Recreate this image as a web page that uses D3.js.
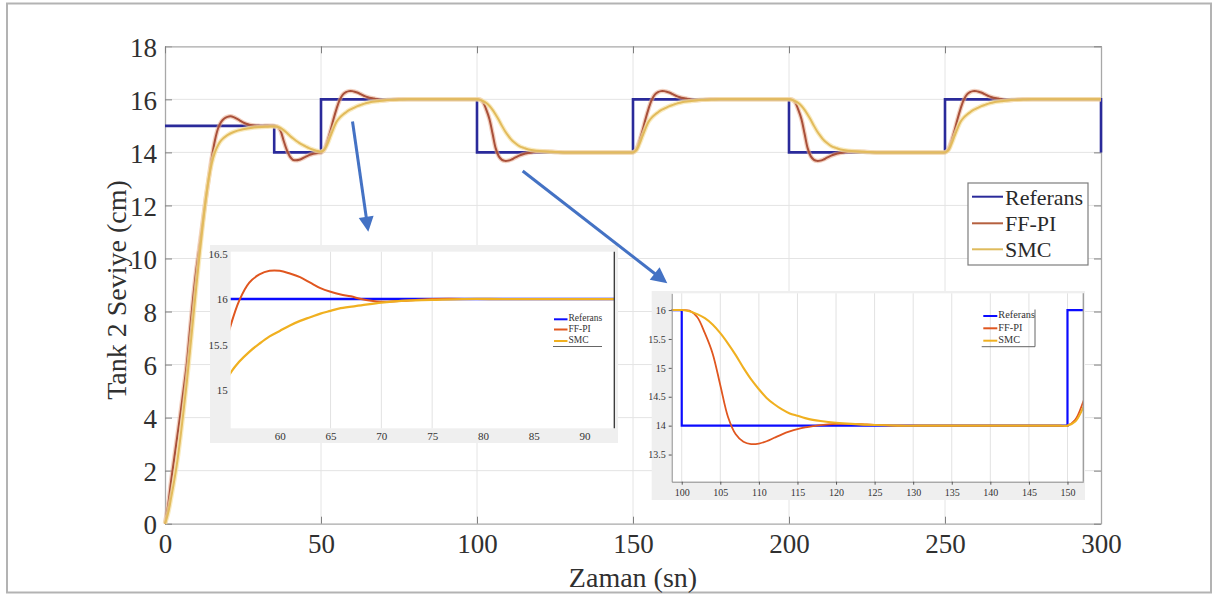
<!DOCTYPE html>
<html>
<head>
<meta charset="utf-8">
<script src="https://cdn.jsdelivr.net/npm/d3@7"></script>
<style>
  body { margin: 0; background: #fff; }
  text { font-family: "Liberation Serif", "Times New Roman", serif; }
</style>
</head>
<body>
<svg id="chart" width="1217" height="595"></svg>
<script>
// ---- data ----
const refTimes = [0, 35, 50, 100, 150, 200, 250, 300];
const refLevels = [15, 14, 16, 14, 16, 14, 16, 14];

const ffpiData = [
  [0,0],[1,0.7],[2,1.65],[3,2.5],[4,3.35],[5,4.2],[6,5.1],[7,6.05],[8,7.3],[9,8.5],[10,9.55],[11,10.4],[12,11.3],[13,12.2],[14,13.0],[15,13.8],[16,14.45],[17,14.9],[18,15.15],[19,15.28],[20,15.34],[21,15.36],[22,15.33],[23,15.27],[24,15.2],[25,15.13],[26,15.08],[27,15.04],[28,15.02],[30,15.0],[32,15.0],[34,15.0],[35,15.0],
  [36,14.97],[37,14.82],[38,14.45],[39,14.1],[40,13.85],[41,13.72],[42,13.7],[43,13.72],[44,13.77],[45,13.83],[46,13.89],[47,13.93],[48,13.96],[49,13.98],[50,13.99],
  [51,14.1],[52,14.4],[53,14.8],[54,15.25],[55,15.65],[56,15.98],[57,16.18],[58,16.27],[59,16.31],[60,16.31],[61,16.28],[62,16.24],[63,16.18],[64,16.12],[65,16.08],[66,16.05],[67,16.03],[68,16.0],[69,15.98],[70,15.97],[72,15.98],[75,16.0],[80,16.0],[85,16.0],[90,16.0],[95,16.0],[99,16.0],[100,16.0],
  [101,15.99],[102,15.88],[103,15.6],[104,15.25],[105,14.7],[106,14.15],[107,13.85],[108,13.72],[109,13.68],[110,13.69],[111,13.73],[112,13.79],[113,13.85],[114,13.9],[115,13.94],[116,13.97],[117,13.99],[118,14.01],[120,14.03],[122,14.03],[124,14.02],[126,14.01],[128,14.0],[132,14.0],[136,14.0],[140,14.0],[144,14.0],[147,14.0],[149,14.0],[150,14.0],
  [151,14.1],[152,14.4],[153,14.8],[154,15.25],[155,15.65],[156,15.98],[157,16.18],[158,16.27],[159,16.31],[160,16.31],[161,16.28],[162,16.24],[163,16.18],[164,16.12],[165,16.08],[166,16.05],[167,16.03],[168,16.0],[169,15.98],[170,15.97],[172,15.98],[175,16.0],[180,16.0],[185,16.0],[190,16.0],[195,16.0],[199,16.0],[200,16.0],
  [201,15.99],[202,15.88],[203,15.6],[204,15.25],[205,14.7],[206,14.15],[207,13.85],[208,13.72],[209,13.68],[210,13.69],[211,13.73],[212,13.79],[213,13.85],[214,13.9],[215,13.94],[216,13.97],[217,13.99],[218,14.01],[220,14.03],[222,14.03],[224,14.02],[226,14.01],[228,14.0],[232,14.0],[236,14.0],[240,14.0],[244,14.0],[247,14.0],[249,14.0],[250,14.0],
  [251,14.1],[252,14.4],[253,14.8],[254,15.25],[255,15.65],[256,15.98],[257,16.18],[258,16.27],[259,16.31],[260,16.31],[261,16.28],[262,16.24],[263,16.18],[264,16.12],[265,16.08],[266,16.05],[267,16.03],[268,16.0],[269,15.98],[270,15.97],[272,15.98],[275,16.0],[280,16.0],[285,16.0],[290,16.0],[295,16.0],[300,16.0]
];

const smcData = [
  [0,0],[1,0.4],[2,1.0],[3,1.65],[4,2.4],[5,3.3],[6,4.3],[7,5.35],[8,6.5],[9,7.7],[10,8.9],[11,10.05],[12,11.15],[13,12.15],[14,13.0],[15,13.6],[16,14.0],[17,14.27],[18,14.45],[20,14.65],[22,14.77],[25,14.87],[28,14.93],[31,14.96],[33,14.97],[35,14.98],
  [36,14.97],[37,14.92],[38,14.84],[39,14.74],[40,14.63],[41,14.53],[42,14.44],[43,14.36],[44,14.29],[45,14.23],[46,14.17],[47,14.12],[48,14.08],[49,14.05],[50,14.03],
  [51,14.1],[52,14.3],[53,14.6],[54,14.9],[55,15.16],[56,15.31],[57,15.42],[58,15.51],[59,15.59],[60,15.65],[61,15.71],[62,15.76],[63,15.8],[64,15.84],[65,15.87],[66,15.9],[68,15.93],[70,15.96],[72,15.98],[75,15.99],[78,16.0],[82,16.0],[86,16.0],[90,16.0],[94,16.0],[97,16.0],[99,16.0],[100,16.0],
  [101,15.98],[102,15.93],[103,15.86],[104,15.75],[105,15.6],[106,15.42],[107,15.22],[108,15.0],[109,14.8],[110,14.63],[111,14.48],[112,14.37],[113,14.28],[114,14.21],[115,14.17],[116,14.13],[117,14.1],[118,14.08],[120,14.05],[122,14.03],[125,14.01],[128,14.0],[132,14.0],[136,14.0],[140,14.0],[144,14.0],[147,14.0],[149,14.0],[150,14.0],
  [151,14.07],[152,14.3],[153,14.6],[154,14.9],[155,15.16],[156,15.31],[157,15.42],[158,15.51],[159,15.59],[160,15.65],[161,15.71],[162,15.76],[163,15.8],[164,15.84],[165,15.87],[166,15.9],[168,15.93],[170,15.96],[172,15.98],[175,15.99],[178,16.0],[182,16.0],[186,16.0],[190,16.0],[194,16.0],[197,16.0],[199,16.0],[200,16.0],
  [201,15.98],[202,15.93],[203,15.86],[204,15.75],[205,15.6],[206,15.42],[207,15.22],[208,15.0],[209,14.8],[210,14.63],[211,14.48],[212,14.37],[213,14.28],[214,14.21],[215,14.17],[216,14.13],[217,14.1],[218,14.08],[220,14.05],[222,14.03],[225,14.01],[228,14.0],[232,14.0],[236,14.0],[240,14.0],[244,14.0],[247,14.0],[249,14.0],[250,14.0],
  [251,14.07],[252,14.3],[253,14.6],[254,14.9],[255,15.16],[256,15.31],[257,15.42],[258,15.51],[259,15.59],[260,15.65],[261,15.71],[262,15.76],[263,15.8],[264,15.84],[265,15.87],[266,15.9],[268,15.93],[270,15.96],[272,15.98],[275,15.99],[278,16.0],[282,16.0],[286,16.0],[290,16.0],[295,16.0],[300,16.0]
];

const xTicks = [0, 50, 100, 150, 200, 250, 300];
const yTicks = [0, 2, 4, 6, 8, 10, 12, 14, 16, 18];
const seriesNames = ["Referans", "FF-PI", "SMC"];
const inset1XTicks = [60, 65, 70, 75, 80, 85, 90];
const inset1YTicks = [15, 15.5, 16, 16.5];
const inset2XTicks = [100, 105, 110, 115, 120, 125, 130, 135, 140, 145, 150];
const inset2YTicks = [13.5, 14, 14.5, 15, 15.5, 16];

const refPts = refTimes.map((t, i) => [t, refLevels[i]]);
const fmt = d3.format("~g");

// ---- main axes ----
const svg = d3.select("#chart");
const x = d3.scaleLinear().domain([0, 300]).range([165, 1101]);
const y = d3.scaleLinear().domain([0, 18]).range([523.7, 46.3]);

// outer frame of the figure
svg.append("rect")
  .attr("x", 7).attr("y", 3.5).attr("width", 1204).attr("height", 589)
  .attr("fill", "none").attr("stroke", "#b3b3b3").attr("stroke-width", 2);

// grid
svg.append("g").selectAll("line").data(xTicks.slice(1, -1)).join("line")
  .attr("x1", d => x(d)).attr("x2", d => x(d))
  .attr("y1", y(0)).attr("y2", y(18))
  .attr("stroke", "#e4e4e4");
svg.append("g").selectAll("line").data(yTicks.slice(1, -1)).join("line")
  .attr("x1", x(0)).attr("x2", x(300))
  .attr("y1", d => y(d)).attr("y2", d => y(d))
  .attr("stroke", "#e4e4e4");

function styleAxis(g, fontSize) {
  g.select(".domain").attr("stroke", "#a8a8a8").attr("stroke-width", 1.3);
  g.selectAll(".tick line").attr("stroke", "#808080");
  g.selectAll(".tick text").attr("fill", "#303030")
    .style("font-family", '"Liberation Serif", "Times New Roman", serif')
    .style("font-size", fontSize + "px");
}

svg.append("g").attr("transform", `translate(0,${y(0)})`)
  .call(d3.axisBottom(x).tickValues(xTicks).tickSizeInner(-7).tickSizeOuter(0).tickPadding(10))
  .call(g => styleAxis(g, 27));
svg.append("g").attr("transform", `translate(${x(0)},0)`)
  .call(d3.axisLeft(y).tickValues(yTicks).tickSizeInner(-7).tickSizeOuter(0).tickPadding(8))
  .call(g => styleAxis(g, 27))
  .call(g => g.selectAll(".tick text").attr("dy", "0.36em"));
svg.append("g").attr("transform", `translate(0,${y(18)})`)
  .call(d3.axisTop(x).tickValues(xTicks).tickSizeInner(-7).tickSizeOuter(0).tickFormat(""))
  .call(g => styleAxis(g, 27));
svg.append("g").attr("transform", `translate(${x(300)},0)`)
  .call(d3.axisRight(y).tickValues(yTicks).tickSizeInner(-7).tickSizeOuter(0).tickFormat(""))
  .call(g => styleAxis(g, 27));

// axis titles
svg.append("text")
  .attr("x", 633).attr("y", 587).attr("text-anchor", "middle")
  .attr("fill", "#303030").style("font-size", "28px")
  .text("Zaman (sn)");
svg.append("text")
  .attr("transform", "translate(120,290) rotate(-90)")
  .attr("text-anchor", "middle").attr("dominant-baseline", "middle")
  .attr("fill", "#303030").style("font-size", "28px")
  .text("Tank 2 Seviye (cm)");

// main lines
const smooth = d3.curveCatmullRom.alpha(0.5);
const mainLine = d3.line().x(d => x(d[0])).y(d => y(d[1])).curve(smooth);
const mainStep = d3.line().x(d => x(d[0])).y(d => y(d[1])).curve(d3.curveStepAfter);

svg.append("path").datum(refPts).attr("d", mainStep)
  .attr("fill", "none").attr("stroke", "#2a2a9a").attr("stroke-width", 2.6);
svg.append("path").datum(ffpiData).attr("d", mainLine)
  .attr("fill", "none").attr("stroke", "#e7a98a").attr("stroke-width", 4.5).attr("opacity", 0.55);
svg.append("path").datum(ffpiData).attr("d", mainLine)
  .attr("fill", "none").attr("stroke", "#a9503a").attr("stroke-width", 2);
svg.append("path").datum(smcData).attr("d", mainLine)
  .attr("fill", "none").attr("stroke", "#f7e2a6").attr("stroke-width", 4.5).attr("opacity", 0.7);
svg.append("path").datum(smcData).attr("d", mainLine)
  .attr("fill", "none").attr("stroke", "#e2bb5c").attr("stroke-width", 2);

// main legend
const mainColors = ["#2a2a9a", "#b5603f", "#dfbb5c"];
const lg = svg.append("g");
lg.append("rect").attr("x", 968).attr("y", 183).attr("width", 120).attr("height", 82)
  .attr("fill", "#fff").attr("stroke", "#7d7d7d").attr("stroke-width", 1.2);
const lgRows = [196.7, 223.3, 249.3];
seriesNames.forEach((name, i) => {
  lg.append("line").attr("x1", 972).attr("x2", 1003).attr("y1", lgRows[i]).attr("y2", lgRows[i])
    .attr("stroke", mainColors[i]).attr("stroke-width", 2);
  lg.append("text").attr("x", 1005).attr("y", lgRows[i] + 8)
    .attr("fill", "#2a2a2a").style("font-size", "22px").text(name);
});

// ---- zoomed insets ----
const insetColors = ["#0b0bff", "#e0561f", "#f0b020"];

function drawInset(o) {
  const g = svg.append("g");
  g.append("rect").attr("x", o.bg[0]).attr("y", o.bg[1]).attr("width", o.bg[2]).attr("height", o.bg[3])
    .attr("fill", "#efefef");
  const [px, py, pw, ph] = o.plot;
  g.append("rect").attr("x", px).attr("y", py).attr("width", pw).attr("height", ph).attr("fill", "#fff");
  const sx = d3.scaleLinear().domain(o.xDomain).range([px, px + pw]);
  const sy = d3.scaleLinear().domain(o.yDomain).range([py + ph, py]);

  g.append("g").selectAll("line").data(o.grid).join("line")
    .attr("x1", d => sx(d)).attr("x2", d => sx(d)).attr("y1", py).attr("y2", py + ph)
    .attr("stroke", "#e2e2e2");

  g.append("clipPath").attr("id", o.id).append("rect")
    .attr("x", px).attr("y", py).attr("width", pw).attr("height", ph);
  const lines = g.append("g").attr("clip-path", `url(#${o.id})`);
  const ln = d3.line().x(d => sx(d[0])).y(d => sy(d[1])).curve(smooth);
  const st = d3.line().x(d => sx(d[0])).y(d => sy(d[1])).curve(d3.curveStepAfter);
  lines.append("path").datum(refPts).attr("d", st)
    .attr("fill", "none").attr("stroke", insetColors[0]).attr("stroke-width", o.lw + 0.4);
  lines.append("path").datum(ffpiData).attr("d", ln)
    .attr("fill", "none").attr("stroke", insetColors[1]).attr("stroke-width", o.lw);
  lines.append("path").datum(smcData).attr("d", ln)
    .attr("fill", "none").attr("stroke", insetColors[2]).attr("stroke-width", o.lw + 0.3);

  const ax = g.append("g").attr("transform", `translate(0,${py + ph})`)
    .call(d3.axisBottom(sx).tickValues(o.xTicks).tickFormat(fmt).tickSizeInner(o.tick).tickSizeOuter(0).tickPadding(o.xPad));
  const ay = g.append("g").attr("transform", `translate(${px},0)`)
    .call(d3.axisLeft(sy).tickValues(o.yTicks).tickFormat(fmt).tickSizeInner(o.tick).tickSizeOuter(0).tickPadding(o.yPad));
  [ax, ay].forEach(a => {
    a.select(".domain").attr("stroke", o.axisColor);
    a.selectAll(".tick line").attr("stroke", "#555");
    a.selectAll(".tick text").attr("fill", "#333")
      .style("font-family", '"Liberation Serif", "Times New Roman", serif')
      .style("font-size", o.font + "px");
  });
  g.append("line").attr("x1", px + pw).attr("x2", px + pw).attr("y1", py).attr("y2", py + ph)
    .attr("stroke", o.rightColor).attr("stroke-width", 1.3);

  // legend
  const L = o.legend;
  L.rows.forEach((ry, i) => {
    g.append("line").attr("x1", L.x1).attr("x2", L.x2).attr("y1", ry).attr("y2", ry)
      .attr("stroke", insetColors[i]).attr("stroke-width", 2);
    g.append("text").attr("x", L.x2 + 1).attr("y", ry).attr("dominant-baseline", "middle")
      .attr("fill", "#333").style("font-size", L.font + "px").text(seriesNames[i]);
  });
  g.append("line").attr("x1", L.box[0]).attr("x2", L.box[2]).attr("y1", L.box[3]).attr("y2", L.box[3])
    .attr("stroke", "#666");
  if (L.rightBorder) {
    g.append("line").attr("x1", L.box[2]).attr("x2", L.box[2]).attr("y1", L.box[1]).attr("y2", L.box[3])
      .attr("stroke", "#666");
  }
}

drawInset({
  id: "clip-inset1",
  bg: [210, 245, 408, 198],
  plot: [230.7, 251.7, 383.6, 176.6],
  xDomain: [55.17, 92.93],
  yDomain: [14.58, 16.52],
  xTicks: inset1XTicks,
  yTicks: inset1YTicks,
  grid: [65, 70, 75],
  tick: 0, xPad: 4, yPad: 3,
  font: 11, lw: 2,
  axisColor: "none", rightColor: "#333",
  legend: { x1: 554, x2: 567.5, rows: [319.3, 329.5, 341], font: 9.5, box: [553, 314, 602, 346.5], rightBorder: false }
});

drawInset({
  id: "clip-inset2",
  bg: [651.7, 291, 433.3, 209],
  plot: [671.7, 293.3, 411.6, 188.4],
  xDomain: [98.7, 152.05],
  yDomain: [13.03, 16.29],
  xTicks: inset2XTicks,
  yTicks: inset2YTicks,
  grid: inset2XTicks,
  tick: 3, xPad: 4, yPad: 3,
  font: 10, lw: 1.8,
  axisColor: "#8a8a8a", rightColor: "#9a9a9a",
  legend: { x1: 983.3, x2: 997.3, rows: [316, 328.3, 340.7], font: 10.3, box: [981.7, 309.5, 1035, 346.7], rightBorder: true }
});

// ---- arrows pointing to the insets ----
function arrow(from, tip, headLen, headW) {
  const dx = tip[0] - from[0], dy = tip[1] - from[1];
  const len = Math.hypot(dx, dy), ux = dx / len, uy = dy / len;
  const bx = tip[0] - ux * headLen, by = tip[1] - uy * headLen;
  svg.append("line").attr("x1", from[0]).attr("y1", from[1]).attr("x2", bx + ux * 2).attr("y2", by + uy * 2)
    .attr("stroke", "#4472c4").attr("stroke-width", 3);
  svg.append("path")
    .attr("d", `M${tip[0]},${tip[1]}L${bx - uy * headW / 2},${by + ux * headW / 2}L${bx + uy * headW / 2},${by - ux * headW / 2}Z`)
    .attr("fill", "#4472c4");
}
arrow([352.5, 121.5], [368.3, 231.7], 15, 15);
arrow([522.7, 171], [667.3, 283.3], 16, 16);
</script>
</body>
</html>
